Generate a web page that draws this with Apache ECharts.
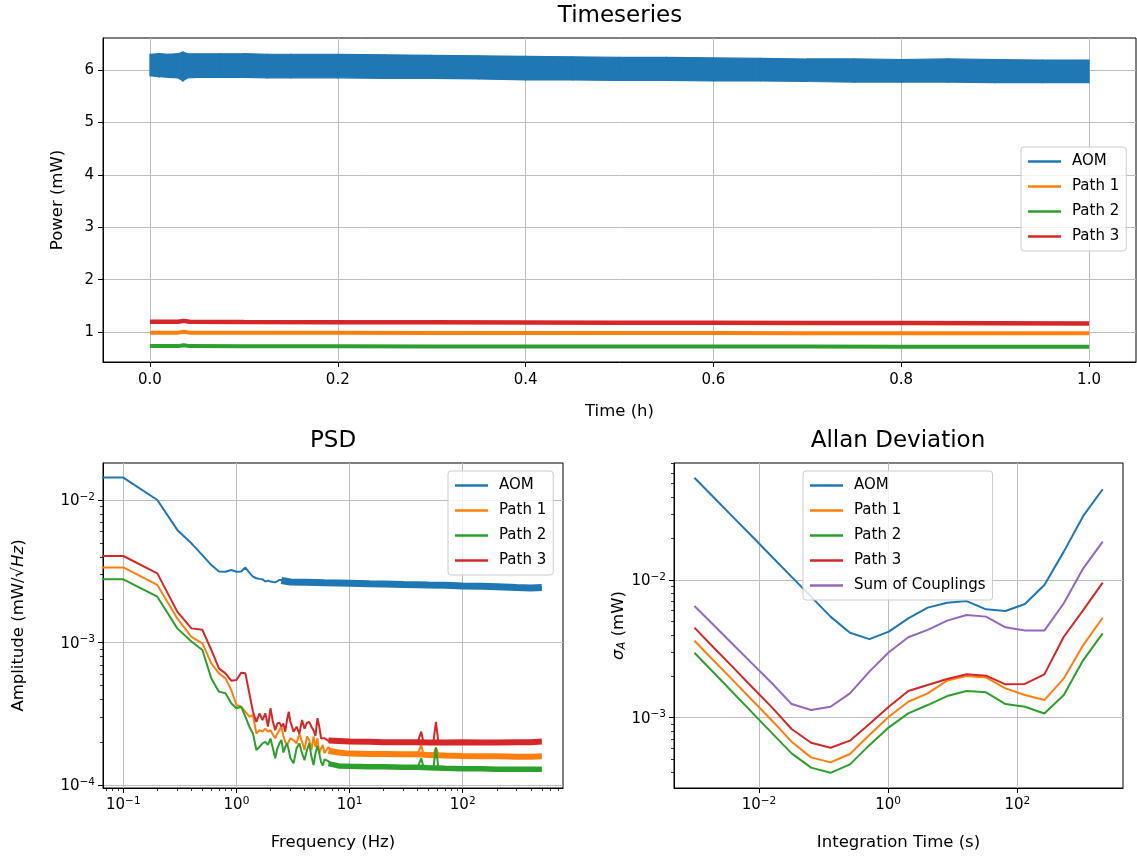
<!DOCTYPE html>
<html><head><meta charset="utf-8">
<script src="https://cdn.jsdelivr.net/npm/echarts@6/dist/echarts.min.js"></script>
<style>html,body{margin:0;padding:0;background:#fff}#c{width:1137px;height:856px}</style>
</head><body><div id="c"></div>
<script>
// ---------- Timeseries data ----------
const tsTime = [0, 0.01, 0.02, 0.03, 0.035, 0.04, 0.05, 0.075, 0.1, 0.125, 0.15, 0.2, 0.25, 0.3, 0.35, 0.4, 0.45, 0.5, 0.55, 0.6, 0.65, 0.7, 0.75, 0.8, 0.85, 0.9, 0.95, 1.0];
const aomUpper = [6.30, 6.31, 6.30, 6.31, 6.34, 6.31, 6.31, 6.31, 6.31, 6.30, 6.30, 6.30, 6.29, 6.28, 6.27, 6.26, 6.25, 6.24, 6.24, 6.23, 6.22, 6.21, 6.21, 6.20, 6.21, 6.20, 6.19, 6.19];
const aomLower = [5.89, 5.87, 5.86, 5.85, 5.79, 5.85, 5.86, 5.86, 5.86, 5.85, 5.85, 5.85, 5.84, 5.84, 5.83, 5.81, 5.81, 5.80, 5.80, 5.79, 5.79, 5.78, 5.77, 5.77, 5.77, 5.76, 5.76, 5.76];
const pathTime = [0, 0.03, 0.036, 0.042, 0.1, 0.2, 0.3, 0.4, 0.5, 0.6, 0.7, 0.8, 0.9, 1.0];
const path1Ts = [0.990, 0.990, 1.005, 0.990, 0.988, 0.986, 0.985, 0.984, 0.983, 0.981, 0.980, 0.978, 0.977, 0.976];
const path2Ts = [0.733, 0.733, 0.748, 0.733, 0.731, 0.729, 0.728, 0.727, 0.726, 0.725, 0.724, 0.723, 0.722, 0.721];
const path3Ts = [1.197, 1.197, 1.215, 1.197, 1.193, 1.190, 1.187, 1.184, 1.181, 1.178, 1.175, 1.172, 1.169, 1.166];
const timeTicks = [0, 0.2, 0.4, 0.6, 0.8, 1.0];
const powerTicks = [1, 2, 3, 4, 5, 6];

// ---------- PSD data ----------
const psdFreq = [0.05, 0.1, 0.2, 0.3, 0.4, 0.5, 0.6, 0.7, 0.8, 0.9, 1.0, 1.1, 1.2, 1.3, 1.4, 1.5, 1.6, 1.7, 1.8, 1.9, 2.0, 2.1, 2.2, 2.3, 2.4, 2.5, 2.6, 2.7, 2.8, 2.9, 3.0, 3.2, 3.4, 3.6, 3.8, 4.0, 4.2, 4.4, 4.6, 4.8, 5.0, 5.2, 5.4, 5.6, 5.8, 6.0, 6.5, 7.0, 8, 10, 15, 20, 30, 40, 43, 45, 55, 58, 61, 70, 100, 150, 200, 300, 400, 500];
const psdAom = [0.01436, 0.01436, 0.0100, 0.00617, 0.00497, 0.00411, 0.00350, 0.00315, 0.00314, 0.00323, 0.00314, 0.00315, 0.00336, 0.00310, 0.00290, 0.00283, 0.00280, 0.00278, 0.00268, 0.00272, 0.00268, 0.00266, 0.00265, 0.00270, 0.00275, 0.00275, 0.00270, 0.00262, 0.00265, 0.00270, 0.00265, 0.00268, 0.00262, 0.00268, 0.00264, 0.00266, 0.00262, 0.00268, 0.00263, 0.00265, 0.00264, 0.00262, 0.00266, 0.00263, 0.00264, 0.00263, 0.00263, 0.00263, 0.00262, 0.00261, 0.00259, 0.00258, 0.00256, 0.00255, 0.00255, 0.00255, 0.00254, 0.00254, 0.00254, 0.00253, 0.00250, 0.00249, 0.00247, 0.00244, 0.00242, 0.00244];
const psdPath1 = [0.00337, 0.00337, 0.00254, 0.00148, 0.00110, 0.000989, 0.000716, 0.000610, 0.000562, 0.000466, 0.000366, 0.000356, 0.000328, 0.000303, 0.000310, 0.000231, 0.000244, 0.000238, 0.000250, 0.000238, 0.000244, 0.000227, 0.000214, 0.000231, 0.000244, 0.000258, 0.000222, 0.000202, 0.000192, 0.000197, 0.000214, 0.000208, 0.000197, 0.000231, 0.000202, 0.000177, 0.000220, 0.000208, 0.000177, 0.000220, 0.000186, 0.000214, 0.000168, 0.000182, 0.000192, 0.000168, 0.000186, 0.000168, 0.000170, 0.000167, 0.000166, 0.000166, 0.000165, 0.000165, 0.000192, 0.000164, 0.000163, 0.000185, 0.000162, 0.000162, 0.000161, 0.000160, 0.000160, 0.000159, 0.000159, 0.000160];
const psdPath2 = [0.00278, 0.00278, 0.00210, 0.00126, 0.00102, 0.000889, 0.000562, 0.000454, 0.000442, 0.000376, 0.000347, 0.000356, 0.000303, 0.000258, 0.000231, 0.000177, 0.000186, 0.000197, 0.000202, 0.000192, 0.000213, 0.000182, 0.000155, 0.000182, 0.000197, 0.000208, 0.000170, 0.000186, 0.000197, 0.000177, 0.000155, 0.000143, 0.000182, 0.000197, 0.000168, 0.000150, 0.000177, 0.000197, 0.000160, 0.000139, 0.000168, 0.000190, 0.000168, 0.000145, 0.000138, 0.000152, 0.000148, 0.000138, 0.000137, 0.000136, 0.000135, 0.000135, 0.000134, 0.000134, 0.000155, 0.000134, 0.000133, 0.000183, 0.000132, 0.000132, 0.000131, 0.000131, 0.000130, 0.000130, 0.000130, 0.000130];
const psdPath3 = [0.00405, 0.00405, 0.00306, 0.00165, 0.00126, 0.00123, 0.000889, 0.000661, 0.000610, 0.000542, 0.000547, 0.000616, 0.000610, 0.000442, 0.000328, 0.000279, 0.000320, 0.000287, 0.000320, 0.000258, 0.000347, 0.000279, 0.000244, 0.000272, 0.000275, 0.000258, 0.000272, 0.000238, 0.000287, 0.000328, 0.000279, 0.000238, 0.000258, 0.000231, 0.000287, 0.000250, 0.000275, 0.000279, 0.000258, 0.000244, 0.000222, 0.000296, 0.000258, 0.000214, 0.000208, 0.000214, 0.000205, 0.000208, 0.000205, 0.000203, 0.000202, 0.000201, 0.000201, 0.000201, 0.000238, 0.000200, 0.000200, 0.000279, 0.000200, 0.000200, 0.000201, 0.000200, 0.000200, 0.000201, 0.000201, 0.000205];
// high-frequency noise band (centre of the thick noisy trace)
const bandFreqAom = [2.5, 3, 4, 5, 6, 8, 10, 15, 20, 30, 40, 50, 70, 100, 150, 200, 300, 400, 500];
const bandAom = [0.00273, 0.00266, 0.00265, 0.00264, 0.00263, 0.00262, 0.00261, 0.00259, 0.00258, 0.00256, 0.00255, 0.00254, 0.00253, 0.00250, 0.00249, 0.00247, 0.00244, 0.00242, 0.00244];
const bandFreq = [6.5, 8, 10, 15, 20, 30, 40, 50, 70, 100, 150, 200, 300, 400, 500];
const bandPath1 = [0.000175, 0.000170, 0.000167, 0.000166, 0.000166, 0.000165, 0.000165, 0.000163, 0.000162, 0.000161, 0.000160, 0.000160, 0.000159, 0.000159, 0.000160];
const bandPath2 = [0.000142, 0.000137, 0.000136, 0.000135, 0.000135, 0.000134, 0.000134, 0.000133, 0.000132, 0.000131, 0.000131, 0.000130, 0.000130, 0.000130, 0.000130];
const bandPath3 = [0.000206, 0.000205, 0.000203, 0.000202, 0.000201, 0.000201, 0.000201, 0.000200, 0.000200, 0.000201, 0.000200, 0.000200, 0.000201, 0.000201, 0.000203];
const psdXTicks = [0.1, 1, 10, 100];
const psdXMinor = [0.07, 0.08, 0.09, 0.2, 0.3, 0.4, 0.5, 0.6, 0.7, 0.8, 0.9, 2, 3, 4, 5, 6, 7, 8, 9, 20, 30, 40, 50, 60, 70, 80, 90, 200, 300, 400, 500, 600, 700];
const psdYTicks = [0.0001, 0.001, 0.01];
const psdYMinor = [0.0002, 0.0003, 0.0004, 0.0005, 0.0006, 0.0007, 0.0008, 0.0009, 0.002, 0.003, 0.004, 0.005, 0.006, 0.007, 0.008, 0.009];

// ---------- Allan deviation data ----------
const tau = [0.001, 0.002, 0.004, 0.008, 0.016, 0.032, 0.064, 0.128, 0.256, 0.512, 1.024, 2.048, 4.096, 8.192, 16.384, 32.768, 65.536, 131.072, 262.144, 524.288, 1048.576, 2097.152];
const adevAom = [0.0553, 0.0397, 0.0285, 0.0205, 0.0147, 0.01054, 0.00757, 0.00542, 0.00414, 0.00372, 0.00422, 0.00527, 0.00630, 0.00684, 0.00703, 0.00612, 0.00596, 0.00670, 0.00920, 0.01607, 0.0292, 0.0456];
const adevPath1 = [0.00362, 0.00259, 0.00186, 0.001327, 0.000951, 0.000670, 0.000515, 0.000474, 0.000545, 0.000748, 0.001016, 0.001306, 0.001503, 0.00186, 0.00201, 0.00196, 0.001633, 0.001462, 0.001343, 0.00193, 0.00337, 0.00532];
const adevPath2 = [0.00296, 0.00212, 0.00151, 0.00108, 0.000769, 0.000551, 0.000434, 0.000398, 0.000458, 0.000632, 0.000851, 0.001074, 0.001236, 0.001436, 0.001563, 0.001528, 0.001256, 0.001202, 0.001074, 0.001462, 0.00262, 0.00410];
const adevPath3 = [0.00451, 0.00322, 0.00231, 0.00165, 0.001183, 0.000828, 0.000658, 0.000605, 0.000681, 0.000899, 0.001202, 0.001563, 0.001726, 0.00191, 0.002065, 0.00202, 0.001746, 0.001758, 0.002065, 0.00387, 0.00605, 0.00957];
const adevSum = [0.00647, 0.00469, 0.00339, 0.00245, 0.00177, 0.001256, 0.001138, 0.001202, 0.001503, 0.00216, 0.00299, 0.00384, 0.00434, 0.00507, 0.00557, 0.00542, 0.00453, 0.00429, 0.00429, 0.00678, 0.01216, 0.01897];
const adevXTicks = [0.01, 1, 100];
const adevYTicks = [0.001, 0.01];
const adevYMinor = [0.0004, 0.0005, 0.0006, 0.0007, 0.0008, 0.0009, 0.002, 0.003, 0.004, 0.005, 0.006, 0.007, 0.008, 0.009, 0.02, 0.03, 0.04, 0.05, 0.06, 0.07];

// ---------- chart ----------
const FONT = 'DejaVu Sans';
const COL = {aom: '#1f77b4', p1: '#ff7f0e', p2: '#2ca02c', p3: '#d62728', sum: '#9467bd'};
const pair = (xs, ys) => xs.map((x, i) => [x, ys[i]]);
const chart = echarts.init(document.getElementById('c'), null, {renderer: 'canvas'});

const TICK_FS = 15, NAME_FS = 16.5, TITLE_FS = 23, LEG_FS = 15;
const gridBase = {show: true, borderColor: '#000', borderWidth: 1, backgroundColor: 'transparent', containLabel: false};
const tick = vals => ({show: true, length: 5, inside: false, lineStyle: {color: '#000', width: 1}, customValues: vals});
const minorTick = vals => ({show: true, length: 3, inside: false, lineStyle: {color: '#000', width: 0.8}, customValues: vals});
const split = {show: true, lineStyle: {color: '#bdbdbd', width: 1}};
const axLine = {show: true, onZero: false, lineStyle: {color: '#000', width: 1}};
const nameStyle = {fontFamily: FONT, fontSize: NAME_FS, color: '#000'};
const supRich = {
  b: {fontFamily: FONT, fontSize: TICK_FS, color: '#000', verticalAlign: 'bottom', lineHeight: 17},
  e: {fontFamily: FONT, fontSize: 10.5, color: '#000', verticalAlign: 'top', lineHeight: 12, padding: [0, 0, 8, 0]}
};
const logFmt = v => {
  const e = Math.round(Math.log10(v));
  return '{b|10}{e|' + (e < 0 ? '\u2212' + (-e) : String(e)) + '}';
};
const logLabel = vals => ({show: true, customValues: vals, formatter: logFmt, rich: supRich, margin: 8, color: '#000', fontFamily: FONT, fontSize: TICK_FS});
const minorAxis = (grid, min, max, vals, pos) => ({
  type: 'log', logBase: 10, gridIndex: grid, min, max, position: pos,
  axisLine: {show: false, onZero: false}, axisLabel: {show: false}, splitLine: {show: false},
  axisTick: minorTick(vals)
});

function mkLegend(names, left, top) {
  return {
    data: names, orient: 'vertical', left, top, icon: 'rect',
    itemWidth: 33, itemHeight: 2.5, itemGap: 8, padding: [6, 7, 6, 7],
    backgroundColor: 'rgba(255,255,255,0.8)', borderColor: '#cccccc', borderWidth: 1, borderRadius: 3,
    selectedMode: false,
    textStyle: {fontFamily: FONT, fontSize: LEG_FS, color: '#000', lineHeight: 17, padding: [0, 0, 0, 6]}
  };
}

const thin = (name, xi, yi, data, color, w) => ({
  type: 'line', name, xAxisIndex: xi, yAxisIndex: yi, data, symbol: 'none', showSymbol: false,
  lineStyle: {color, width: w}, itemStyle: {color}, emphasis: {disabled: true}, silent: true, clip: true, animation: false
});

// AOM timeseries: filled band between the lower and upper envelope of the noisy trace
const aomBandSeries = {
  type: 'custom', name: 'AOM', xAxisIndex: 0, yAxisIndex: 0, silent: true, animation: false,
  itemStyle: {color: COL.aom},
  data: tsTime.map((t, i) => [t, aomLower[i], aomUpper[i]]),
  encode: {x: 0, y: [1, 2]},
  renderItem: (params, api) => {
    const i = params.dataIndexInside;
    if (i >= params.dataInsideLength - 1) return null;
    const p = [
      api.coord([api.value(0, i), api.value(1, i)]),
      api.coord([api.value(0, i), api.value(2, i)]),
      api.coord([api.value(0, i + 1), api.value(2, i + 1)]),
      api.coord([api.value(0, i + 1), api.value(1, i + 1)])
    ];
    return {type: 'polygon', shape: {points: p}, style: {fill: COL.aom, stroke: COL.aom, lineWidth: 1.2}};
  }
};

const titleStyle = {fontFamily: FONT, fontSize: TITLE_FS, fontWeight: 'normal', color: '#000'};
const option = {
  animation: false,
  backgroundColor: '#fff',
  textStyle: {fontFamily: FONT},
  title: [
    {text: 'Timeseries', left: 620, top: 5, textAlign: 'center', padding: 0, textStyle: titleStyle},
    {text: 'PSD', left: 333, top: 430, textAlign: 'center', padding: 0, textStyle: titleStyle},
    {text: 'Allan Deviation', left: 898, top: 430, textAlign: 'center', padding: 0, textStyle: titleStyle}
  ],
  grid: [
    Object.assign({left: 103, top: 38, width: 1033, height: 324}, gridBase),
    Object.assign({left: 103, top: 463, width: 460, height: 325}, gridBase),
    Object.assign({left: 674, top: 463, width: 449, height: 325}, gridBase)
  ],
  legend: [
    mkLegend(['AOM', 'Path 1', 'Path 2', 'Path 3'], 1021, 147),
    mkLegend(['AOM', 'Path 1', 'Path 2', 'Path 3'], 448, 471),
    mkLegend(['AOM', 'Path 1', 'Path 2', 'Path 3', 'Sum of Couplings'], 803, 471)
  ],
  xAxis: [
    {type: 'value', gridIndex: 0, min: -0.05, max: 1.05, axisLine: axLine, axisTick: tick(timeTicks),
     axisLabel: {customValues: timeTicks, formatter: v => v.toFixed(1), margin: 11, color: '#000', fontFamily: FONT, fontSize: TICK_FS},
     splitLine: split, name: 'Time (h)', nameLocation: 'middle', nameGap: 41, nameTextStyle: nameStyle},
    {type: 'log', logBase: 10, gridIndex: 1, min: 0.06615, max: 770, position: 'bottom', axisLine: axLine, axisTick: tick(psdXTicks),
     axisLabel: logLabel(psdXTicks), splitLine: split, name: 'Frequency (Hz)', nameLocation: 'middle', nameGap: 46, nameTextStyle: nameStyle},
    minorAxis(1, 0.06615, 770, psdXMinor, 'bottom'),
    {type: 'log', logBase: 10, gridIndex: 2, min: 0.000483, max: 4325, position: 'bottom', axisLine: axLine, axisTick: tick(adevXTicks),
     axisLabel: logLabel(adevXTicks), splitLine: split, name: 'Integration Time (s)', nameLocation: 'middle', nameGap: 46, nameTextStyle: nameStyle}
  ],
  yAxis: [
    {type: 'value', gridIndex: 0, min: 0.43, max: 6.61, axisLine: axLine, axisTick: tick(powerTicks),
     axisLabel: {customValues: powerTicks, margin: 9, color: '#000', fontFamily: FONT, fontSize: TICK_FS},
     splitLine: split, name: 'Power (mW)', nameLocation: 'middle', nameGap: 37, nameTextStyle: nameStyle},
    {type: 'log', logBase: 10, gridIndex: 1, min: 0.0000959, max: 0.01816, position: 'left', axisLine: axLine, axisTick: tick(psdYTicks),
     axisLabel: logLabel(psdYTicks), splitLine: split,
     name: '{n|Amplitude (mW/\u221A}{i|Hz}{n|)}', nameLocation: 'middle', nameGap: 76,
     nameTextStyle: {rich: {n: nameStyle, i: Object.assign({}, nameStyle, {fontStyle: 'italic'})}}},
    minorAxis(1, 0.0000959, 0.01816, psdYMinor, 'left'),
    {type: 'log', logBase: 10, gridIndex: 2, min: 0.0003087, max: 0.07073, position: 'left', axisLine: axLine, axisTick: tick(adevYTicks),
     axisLabel: logLabel(adevYTicks), splitLine: split,
     name: '{i|\u03C3}{s|A}{n| (mW)}', nameLocation: 'middle', nameGap: 46,
     nameTextStyle: {rich: {n: nameStyle, i: Object.assign({}, nameStyle, {fontStyle: 'italic'}),
       s: {fontFamily: FONT, fontSize: 11.5, color: '#000', fontStyle: 'italic', verticalAlign: 'bottom', lineHeight: 13, padding: [6, 0, 0, 0]}}}},
    minorAxis(2, 0.0003087, 0.07073, adevYMinor, 'left')
  ],
  series: [
    // Timeseries
    aomBandSeries,
    thin('Path 1', 0, 0, pair(pathTime, path1Ts), COL.p1, 4),
    thin('Path 2', 0, 0, pair(pathTime, path2Ts), COL.p2, 4),
    thin('Path 3', 0, 0, pair(pathTime, path3Ts), COL.p3, 4.5),
    // PSD
    thin('AOM-band', 1, 1, pair(bandFreqAom, bandAom), COL.aom, 7),
    thin('AOM', 1, 1, pair(psdFreq, psdAom), COL.aom, 2),
    thin('Path1-band', 1, 1, pair(bandFreq, bandPath1), COL.p1, 6),
    thin('Path 1', 1, 1, pair(psdFreq, psdPath1), COL.p1, 2),
    thin('Path2-band', 1, 1, pair(bandFreq, bandPath2), COL.p2, 5.5),
    thin('Path 2', 1, 1, pair(psdFreq, psdPath2), COL.p2, 2),
    thin('Path3-band', 1, 1, pair(bandFreq, bandPath3), COL.p3, 6),
    thin('Path 3', 1, 1, pair(psdFreq, psdPath3), COL.p3, 2),
    // Allan deviation
    thin('AOM', 3, 3, pair(tau, adevAom), COL.aom, 2),
    thin('Path 1', 3, 3, pair(tau, adevPath1), COL.p1, 2),
    thin('Path 2', 3, 3, pair(tau, adevPath2), COL.p2, 2),
    thin('Path 3', 3, 3, pair(tau, adevPath3), COL.p3, 2),
    thin('Sum of Couplings', 3, 3, pair(tau, adevSum), COL.sum, 2)
  ]
};
chart.setOption(option);
</script>
</body></html>
